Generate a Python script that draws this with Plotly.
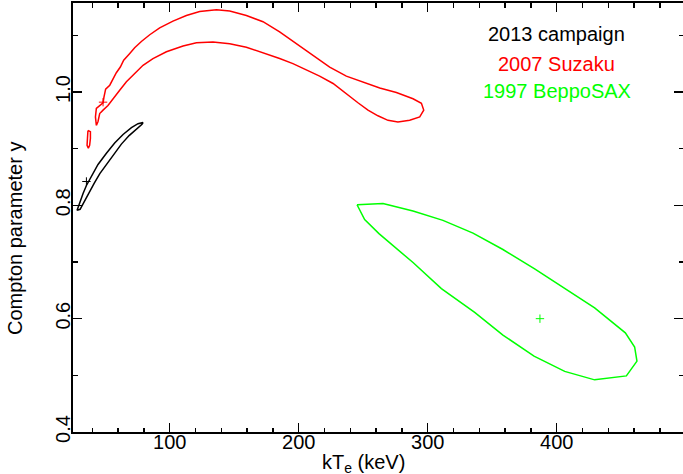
import plotly.graph_objects as go

# ---- data ----
# 2013 campaign contour (black)
c2013_kte = [28.1, 30.2, 32.8, 35.4, 39.3, 44.4, 50.9, 57.3, 63.8, 70.3, 75.4, 79.3,
             78.5, 74.0, 68.5, 62.5, 56.5, 51.0, 45.8, 41.5, 37.5, 33.8, 30.5, 28.1]
c2013_y = [0.791, 0.806, 0.821, 0.835, 0.852, 0.872, 0.892, 0.910, 0.925, 0.937, 0.944, 0.946,
           0.943, 0.934, 0.923, 0.908, 0.890, 0.873, 0.856, 0.839, 0.822, 0.807, 0.793, 0.791]
best2013_kte = [35.4]
best2013_y = [0.842]

# 2007 Suzaku contour (red), main region
c2007_kte = [43.1, 42.4, 43.1, 45.2, 48.3, 49.0, 50.3, 53.5, 56.0, 58.6, 61.7, 64.3, 69.0, 72.8,
             78.0, 84.5, 92.2, 102.5, 112.9, 123.2, 136.2, 146.5, 159.4, 172.3, 185.2, 198.2,
             211.0, 224.0, 236.9, 249.8, 262.8, 275.7, 288.6, 295.1, 296.9, 293.8, 286.0, 276.9,
             269.2, 261.4, 253.7, 245.9, 236.9, 226.6, 216.2, 205.9, 195.5, 185.2, 172.3, 159.4,
             146.5, 133.5, 120.7, 110.3, 97.4, 87.0, 79.3, 71.5, 66.4, 61.2, 56.0, 52.1, 48.3,
             45.7, 44.4, 43.1]
c2007_y = [0.941, 0.956, 0.971, 0.975, 0.981, 0.991, 1.005, 1.012, 1.024, 1.034, 1.044, 1.056,
           1.068, 1.078, 1.089, 1.101, 1.113, 1.125, 1.135, 1.142, 1.145, 1.143, 1.135, 1.124,
           1.106, 1.085, 1.065, 1.044, 1.028, 1.017, 1.007, 0.999, 0.988, 0.980, 0.968, 0.956,
           0.950, 0.947, 0.950, 0.958, 0.968, 0.981, 0.997, 1.015, 1.028, 1.039, 1.050, 1.059,
           1.069, 1.079, 1.085, 1.088, 1.087, 1.081, 1.071, 1.059, 1.047, 1.029, 1.018, 1.003,
           0.988, 0.976, 0.968, 0.962, 0.948, 0.941]
# 2007 Suzaku small island
c2007b_kte = [36.6, 38.5, 38.5, 37.9, 36.9, 35.9, 36.2, 36.2, 36.6]
c2007b_y = [0.932, 0.930, 0.918, 0.906, 0.901, 0.906, 0.918, 0.930, 0.932]
best2007_kte = [48.3]
best2007_y = [0.982]

# 1997 BeppoSAX contour (green)
c1997_kte = [245.2, 265.3, 288.6, 311.8, 335.1, 358.3, 382.9, 406.2, 429.4, 453.2, 460.4, 462.2,
             454.0, 429.4, 406.2, 382.4, 358.3, 336.4, 310.6, 288.6, 275.7, 262.2, 251.1, 245.2]
c1997_y = [0.801, 0.803, 0.790, 0.7735, 0.751, 0.722, 0.688, 0.654, 0.619, 0.575, 0.550, 0.525,
           0.499, 0.492, 0.507, 0.534, 0.571, 0.611, 0.653, 0.699, 0.724, 0.750, 0.775, 0.801]
best1997_kte = [387]
best1997_y = [0.600]

labels = ["2013 campaign", "2007 Suzaku", "1997 BeppoSAX"]
label_y = [1.103, 1.050, 1.0025]
label_x = 400
colors = ["#000000", "#ff0000", "#00ff00"]

x_range = [25, 497.9]
y_range = [0.4, 1.157]

FONT = "Liberation Sans, Arial, Helvetica, sans-serif"

fig = go.Figure()

def contour(x, y, color, yaxis="y"):
    fig.add_trace(go.Scatter(x=x, y=y, mode="lines", line=dict(color=color, width=1.5),
                             showlegend=False, hoverinfo="skip", yaxis=yaxis))

def best(x, y, color, yaxis="y"):
    fig.add_trace(go.Scatter(x=x, y=y, mode="markers",
                             marker=dict(symbol="cross-thin", size=6,
                                         line=dict(color=color, width=1)),
                             showlegend=False, hoverinfo="skip", yaxis=yaxis))

contour(c2013_kte, c2013_y, colors[0])
best(best2013_kte, best2013_y, colors[0])
contour(c2007_kte, c2007_y, colors[1])
contour(c2007b_kte, c2007b_y, colors[1])
best(best2007_kte, best2007_y, colors[1])
contour(c1997_kte, c1997_y, colors[2], yaxis="y2")
best(best1997_kte, best1997_y, colors[2], yaxis="y2")

for t, yy, c in zip(labels, label_y, colors):
    fig.add_annotation(x=label_x, y=yy, xref="x", yref="y", text=t, showarrow=False,
                       xanchor="center", yanchor="middle",
                       font=dict(family=FONT, size=20, color=c))

# axis titles
fig.add_annotation(x=250, y=0, xref="x", yref="paper", yshift=-17, text="kT<sub>e</sub> (keV)",
                   showarrow=False, xanchor="center", yanchor="top",
                   font=dict(family=FONT, size=20, color="#000"))
fig.add_annotation(x=-0.095, y=0.45, xref="paper", yref="paper", text="Compton parameter y",
                   textangle=-90, showarrow=False, xanchor="center", yanchor="middle",
                   font=dict(family=FONT, size=20, color="#000"))

fig.update_layout(
    width=683, height=474,
    margin=dict(l=73, r=0, t=3, b=42),
    paper_bgcolor="white", plot_bgcolor="white",
    font=dict(family=FONT, size=20, color="#000"),
    xaxis=dict(range=x_range, showgrid=False, zeroline=False,
               showline=True, linecolor="#000", linewidth=2, mirror="ticks",
               ticks="inside", ticklen=9, tickwidth=1.5, tickcolor="#000",
               tick0=0, dtick=100, ticklabelstandoff=-9,
               minor=dict(ticks="inside", ticklen=4.5, tickwidth=1.5, tickcolor="#000", dtick=20, tick0=0),
               tickfont=dict(family=FONT, size=20)),
    yaxis=dict(range=y_range, showgrid=False, zeroline=False,
               showline=True, linecolor="#000", linewidth=2, mirror=False,
               ticks="inside", ticklen=9, tickwidth=1.5, tickcolor="#000",
               tick0=0.4, dtick=0.2, tickformat=".1f", tickangle=-90, ticklabelstandoff=-7,
               minor=dict(ticks="inside", ticklen=4.5, tickwidth=1.5, tickcolor="#000", dtick=0.1, tick0=0.4),
               tickfont=dict(family=FONT, size=20)),
    yaxis2=dict(range=y_range, overlaying="y", side="right", showgrid=False, zeroline=False,
                showline=False, showticklabels=False,
                ticks="inside", ticklen=9, tickwidth=1.5, tickcolor="#000",
                tick0=0.4, dtick=0.2,
                minor=dict(ticks="inside", ticklen=4.5, tickwidth=1.5, tickcolor="#000", dtick=0.1, tick0=0.4)),
)

fig.write_html("out.html", config={"displayModeBar": False, "staticPlot": True},
               post_script="document.body.style.margin='0';document.body.style.padding='0';document.body.style.overflow='hidden';")
